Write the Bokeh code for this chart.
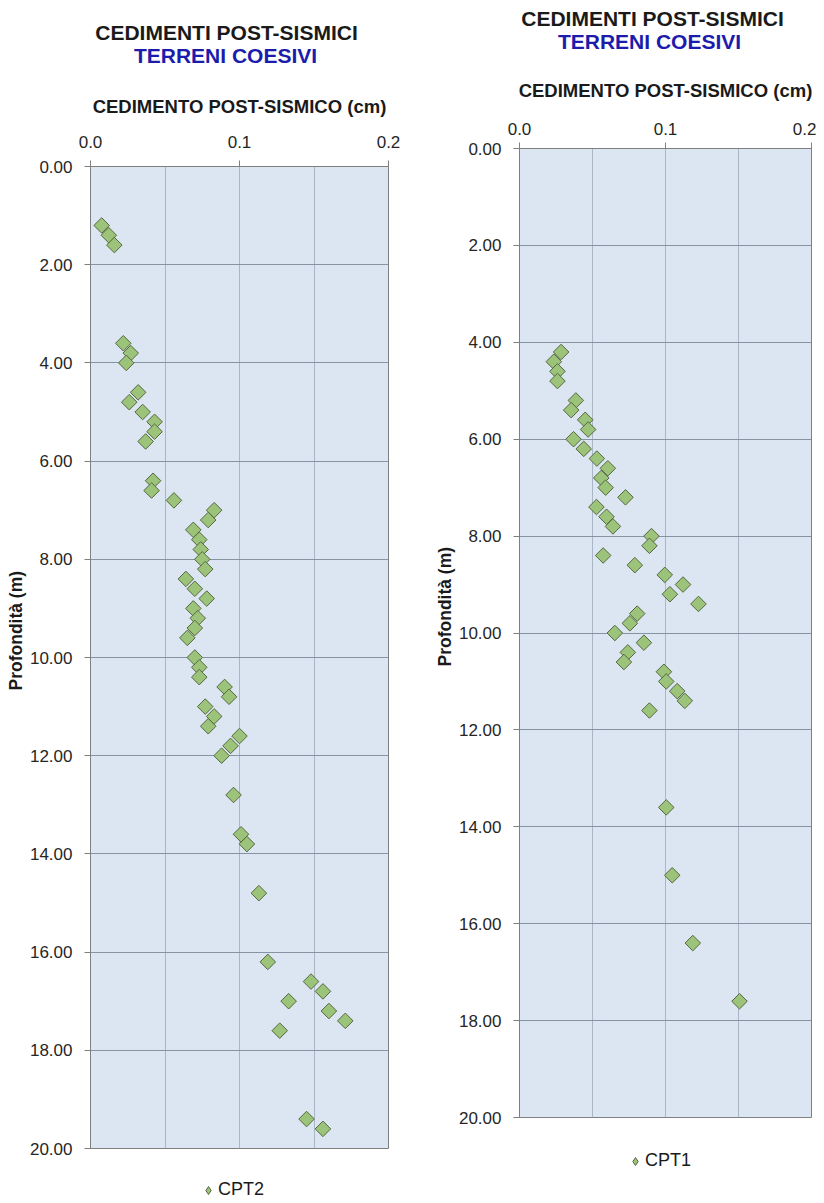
import numpy as np
from bokeh.plotting import figure
from bokeh.layouts import row, column
from bokeh.models import Range1d, FixedTicker, NumeralTickFormatter, Title, Label
from bokeh.embed import file_html
from bokeh.resources import INLINE

# ---------------- data ----------------
title_main = "CEDIMENTI POST-SISMICI"
title_sub = "TERRENI COESIVI"
x_label = "CEDIMENTO POST-SISMICO (cm)"
y_label = "Profondità (m)"

x_ticks = [0.0, 0.1, 0.2]
y_ticks = [0, 2, 4, 6, 8, 10, 12, 14, 16, 18, 20]

cpt2_name = "CPT2"
cpt2_profondita = [1.2, 1.4, 1.6, 3.6, 3.8, 4.0, 4.6, 4.8, 5.0, 5.2, 5.4, 5.6,
                   6.4, 6.6, 6.8, 7.0, 7.2, 7.4, 7.6, 7.8, 8.0, 8.2, 8.4, 8.6,
                   8.8, 9.0, 9.2, 9.4, 9.6, 10.0, 10.2, 10.4, 10.6, 10.8, 11.0,
                   11.2, 11.4, 11.6, 11.8, 12.0, 12.8, 13.6, 13.8, 14.8, 16.2,
                   16.6, 16.8, 17.0, 17.2, 17.4, 17.6, 19.4, 19.6]
cpt2_cedimento = [0.0075, 0.0123, 0.016, 0.022, 0.027, 0.024, 0.032, 0.026,
                  0.035, 0.043, 0.043, 0.037, 0.042, 0.041, 0.056, 0.083,
                  0.079, 0.069, 0.073, 0.074, 0.075, 0.077, 0.064, 0.070,
                  0.078, 0.069, 0.072, 0.070, 0.065, 0.070, 0.073, 0.073,
                  0.090, 0.093, 0.077, 0.083, 0.079, 0.100, 0.094, 0.088,
                  0.096, 0.101, 0.105, 0.113, 0.119, 0.148, 0.156, 0.133,
                  0.160, 0.171, 0.127, 0.145, 0.156]

cpt1_name = "CPT1"
cpt1_profondita = [4.2, 4.4, 4.6, 4.8, 5.2, 5.4, 5.6, 5.8, 6.0, 6.2, 6.4, 6.6,
                   6.8, 7.0, 7.2, 7.4, 7.6, 7.8, 8.0, 8.2, 8.4, 8.6, 8.8, 9.0,
                   9.2, 9.4, 9.6, 9.8, 10.0, 10.2, 10.4, 10.6, 10.8, 11.0, 11.2,
                   11.4, 11.6, 13.6, 15.0, 16.4, 17.6]
cpt1_cedimento = [0.0285, 0.0235, 0.026, 0.026, 0.0386, 0.0354, 0.045, 0.047,
                  0.037, 0.044, 0.053, 0.0605, 0.056, 0.059, 0.0726, 0.0527,
                  0.0596, 0.064, 0.0904, 0.089, 0.0573, 0.079, 0.0995, 0.112,
                  0.103, 0.1226, 0.0806, 0.0756, 0.0653, 0.0852, 0.0742,
                  0.0715, 0.0989, 0.1005, 0.108, 0.1132, 0.089, 0.1005,
                  0.1046, 0.1187, 0.1507]

FONT = "Liberation Sans"
FILL = "#9bc47a"
EDGE = "#56673f"


def blank_fig(w, h):
    f = figure(width=w, height=h, min_border=0, x_range=Range1d(0, 1),
               y_range=Range1d(0, 1), x_axis_location=None,
               y_axis_location=None, output_backend="svg",
               toolbar_location=None)
    f.outline_line_color = None
    f.background_fill_color = "white"
    f.border_fill_color = "white"
    f.grid.visible = False
    return f


def make_panel(ced, prof, name, geo):
    W = geo["bl"] + geo["fw"] + geo["br"]

    # ---- header with the two title lines (frame is aligned with the chart) ----
    hdr = blank_fig(W, geo["hh"])
    for txt, (x, y), col in ((title_main, geo["t1"], "#1a1a1a"),
                             (title_sub, geo["t2"], "#1c1cac")):
        hdr.add_layout(Label(x=x - geo["bl"], y=geo["hh"] - y,
                             x_units="screen", y_units="screen", text=txt,
                             text_align="center", text_baseline="middle",
                             text_font=FONT, text_font_size="21px",
                             text_font_style="bold", text_color=col))

    # ---- main chart ----
    p = figure(frame_width=geo["fw"], frame_height=geo["fh"],
               min_border_left=geo["bl"], min_border_right=geo["br"],
               min_border_top=geo["bt"], min_border_bottom=geo["bb"],
               x_range=Range1d(0, 0.2), y_range=Range1d(20, 0),
               x_axis_location="above", output_backend="svg",
               toolbar_location=None)
    p.background_fill_color = "#dce6f2"
    p.border_fill_color = "white"
    p.outline_line_color = "#7f7f7f"
    p.outline_line_width = 1

    p.xgrid.ticker = FixedTicker(ticks=[0.05, 0.1, 0.15])
    p.xgrid.grid_line_color = "#a9b6c6"
    p.ygrid.ticker = FixedTicker(ticks=y_ticks[1:-1])
    p.ygrid.grid_line_color = "#8593a3"

    xa = p.xaxis[0]
    xa.ticker = FixedTicker(ticks=x_ticks)
    xa.formatter = NumeralTickFormatter(format="0.0")
    ya = p.yaxis[0]
    ya.ticker = FixedTicker(ticks=y_ticks)
    ya.formatter = NumeralTickFormatter(format="0.00")
    for ax in (xa, ya):
        ax.axis_line_color = "#7f7f7f"
        ax.major_tick_line_color = "#7f7f7f"
        ax.major_tick_in = 0
        ax.major_tick_out = 6
        ax.minor_tick_line_color = None
        ax.major_label_text_font = FONT
        ax.major_label_text_font_size = "17px"
        ax.major_label_text_color = "#262626"
    xa.major_label_standoff = geo["xstand"]
    ya.major_label_standoff = 12

    xa.axis_label = x_label
    xa.axis_label_text_font = FONT
    xa.axis_label_text_font_size = "18.5px"
    xa.axis_label_text_font_style = "bold"
    xa.axis_label_text_color = "#1a1a1a"
    xa.axis_label_standoff = geo["xlstand"]

    p.add_layout(Title(text=y_label, align="left", offset=geo["yoff"],
                       text_font=FONT, text_font_size="17.5px",
                       text_font_style="bold", text_color="#1a1a1a",
                       standoff=geo["ystand"]), "left")

    p.scatter(ced, prof, marker="square", angle=np.pi / 4, size=11,
              fill_color=FILL, line_color=EDGE, line_width=1)

    # ---- legend strip ----
    leg = blank_fig(W, geo["lh"])
    r = leg.scatter(ced, prof, marker="diamond", size=11, fill_color=FILL,
                    line_color=EDGE, line_width=1, legend_label=name)
    r.visible = False
    lg = leg.legend[0]
    lg.location = geo["legend_loc"]
    lg.background_fill_alpha = 0
    lg.border_line_color = None
    lg.inactive_fill_alpha = 0
    lg.padding = 0
    lg.margin = 0
    lg.glyph_width = 20
    lg.glyph_height = 20
    lg.label_standoff = 0
    lg.label_text_font = FONT
    lg.label_text_font_size = "18px"
    lg.label_text_color = "#1a1a1a"

    return column(hdr, p, leg, spacing=0)


geo_left = dict(fw=298, fh=982, bl=90, br=32, bt=90, bb=14, hh=76, lh=38,
                t1=(226, 32), t2=(225, 55),
                xstand=13, xlstand=16, yoff=458, ystand=2,
                legend_loc=(108, 0))
geo_right = dict(fw=292, fh=969, bl=99, br=5, bt=90, bb=14, hh=58, lh=69,
                 t1=(652 - 420, 17.5), t2=(649 - 420, 41),
                 xstand=8, xlstand=19, yoff=451, ystand=2,
                 legend_loc=(106, 29))

col_left = make_panel(cpt2_cedimento, cpt2_profondita, cpt2_name, geo_left)
col_right = make_panel(cpt1_cedimento, cpt1_profondita, cpt1_name, geo_right)

layout = row(col_left, col_right, spacing=0)
open("out.html", "w").write(file_html(layout, INLINE))
